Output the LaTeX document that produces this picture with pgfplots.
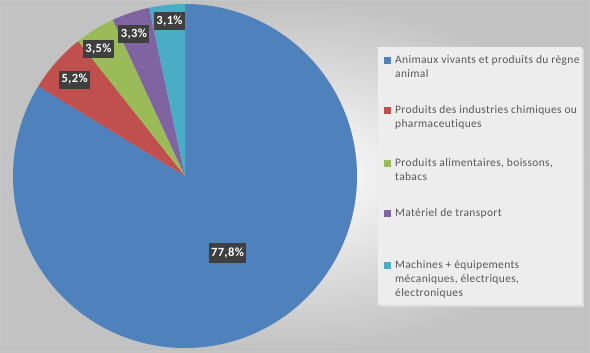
\documentclass[border=0pt]{standalone}
\usepackage{pgfplots}
\pgfplotsset{compat=1.18}
\usepackage{pgfplotstable}
\usepackage{fontspec}
\setmainfont{Carlito}
\newfontfamily\legfont[LetterSpace=3,Ligatures=NoCommon]{Carlito}
\definecolor{pieA}{HTML}{4F81BD}
\definecolor{pieB}{HTML}{C0504D}
\definecolor{pieC}{HTML}{9BBB59}
\definecolor{pieD}{HTML}{8064A2}
\definecolor{pieE}{HTML}{4BACC6}
\definecolor{legtext}{HTML}{595959}
\definecolor{lblbox}{HTML}{3F3F3F}
\tikzset{lbl/.style={fill=lblbox, text=white, font=\legfont\fontsize{12.5bp}{14bp}\selectfont\bfseries,
    inner xsep=2.5bp, inner ysep=0bp, minimum height=18bp}}
\pgfplotstableread{
val
77.8
5.2
3.5
3.3
3.1
}\pietable
\begin{document}
\begin{tikzpicture}[x=1bp,y=1bp]
\shade[inner color=white, outer color=black!24] (0,0) rectangle (590,352);
\draw[black!22] (0.5,0.5) rectangle (589.5,351.5);
\pgfplotstablegetelem{0}{val}\of\pietable \let\va\pgfplotsretval
\pgfplotstablegetelem{1}{val}\of\pietable \let\vb\pgfplotsretval
\pgfplotstablegetelem{2}{val}\of\pietable \let\vc\pgfplotsretval
\pgfplotstablegetelem{3}{val}\of\pietable \let\vd\pgfplotsretval
\pgfplotstablegetelem{4}{val}\of\pietable \let\ve\pgfplotsretval
\pgfmathsetmacro\tot{\va+\vb+\vc+\vd+\ve}
\pgfmathsetmacro\aA{90}
\pgfmathsetmacro\aB{\aA-360*(\va/\tot)}
\pgfmathsetmacro\aC{\aB-360*(\vb/\tot)}
\pgfmathsetmacro\aD{\aC-360*(\vc/\tot)}
\pgfmathsetmacro\aE{\aD-360*(\vd/\tot)}
\pgfmathsetmacro\aF{\aE-360*(\ve/\tot)}
% legend box
\fill[black!14] (380,45) rectangle (584,303);
\fill[black!7] (378,47) rectangle (582,305);
\begin{axis}[at={(13bp,4bp)}, anchor=south west, width=344bp, height=344bp,
  scale only axis, hide axis, xmin=-1, xmax=1, ymin=-1, ymax=1, clip=false]
\fill[pieA] (axis cs:0,0) -- (axis cs:{cos(\aA)},{sin(\aA)}) arc[start angle=\aA, end angle=\aB, radius=172bp] -- cycle;
\fill[pieB] (axis cs:0,0) -- (axis cs:{cos(\aB)},{sin(\aB)}) arc[start angle=\aB, end angle=\aC, radius=172bp] -- cycle;
\fill[pieC] (axis cs:0,0) -- (axis cs:{cos(\aC)},{sin(\aC)}) arc[start angle=\aC, end angle=\aD, radius=172bp] -- cycle;
\fill[pieD] (axis cs:0,0) -- (axis cs:{cos(\aD)},{sin(\aD)}) arc[start angle=\aD, end angle=\aE, radius=172bp] -- cycle;
\fill[pieE] (axis cs:0,0) -- (axis cs:{cos(\aE)},{sin(\aE)}) arc[start angle=\aE, end angle=\aF, radius=172bp] -- cycle;
\node[lbl, minimum height=20bp] at (axis cs:0.247,-0.445) {77,8\%};
\node[lbl] at (axis cs:-0.642,0.561) {5,2\%};
\node[lbl] at (axis cs:-0.503,0.738) {3,5\%};
\node[lbl] at (axis cs:-0.297,0.823) {3,3\%};
\node[lbl] at (axis cs:-0.090,0.901) {3,1\%};
\end{axis}
% legend entries
\begin{scope}[every node/.style={anchor=north west, align=left, inner sep=0pt, text=legtext,
    font=\legfont\fontsize{11.5bp}{14bp}\selectfont}]
\fill[pieA] (384,288.5) rectangle ++(7,7);
\node at (395,297) {Animaux vivants et produits du règne\\animal};
\fill[pieB] (384,238.5) rectangle ++(7,7);
\node at (395,247) {Produits des industries chimiques ou\\pharmaceutiques};
\fill[pieC] (384,185.5) rectangle ++(7,7);
\node at (395,194) {Produits alimentaires, boissons,\\tabacs};
\fill[pieD] (384,135.5) rectangle ++(7,7);
\node at (395,144) {Matériel de transport};
\fill[pieE] (384,83.5) rectangle ++(7,7);
\node at (395,92) {Machines + équipements\\mécaniques, électriques,\\électroniques};
\end{scope}
\end{tikzpicture}
\end{document}
